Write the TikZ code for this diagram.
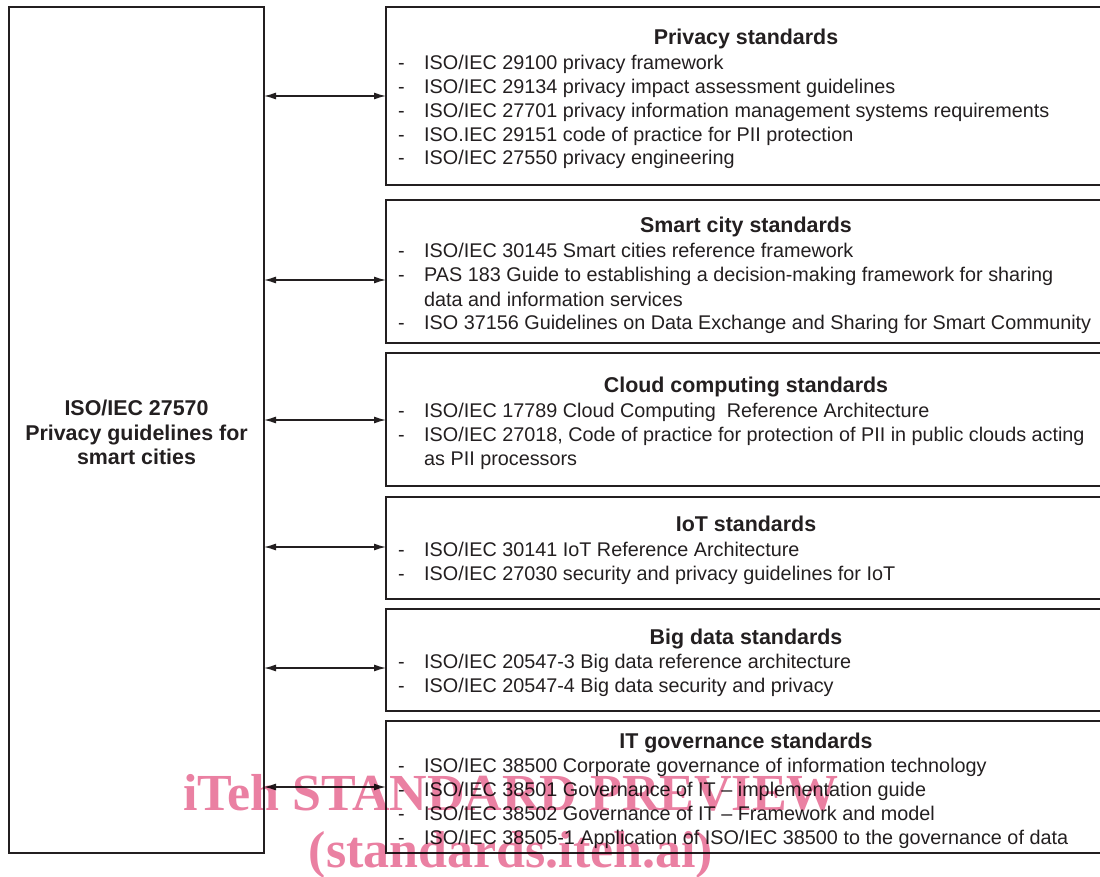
\documentclass[tikz,border=0pt]{standalone}
\usepackage{fontspec}
\setmainfont{Liberation Sans}
\newfontfamily\wmfont{Liberation Serif}
\usetikzlibrary{arrows.meta}
\definecolor{ink}{RGB}{35,31,32}
\definecolor{wm}{RGB}{234,128,162}
\tikzset{
  box/.style={draw=ink, line width=2pt, inner sep=0pt, outer sep=0pt, anchor=north west},
  ttl/.style={font=\fontsize{21.4}{24}\selectfont\bfseries, text=ink, anchor=base, inner sep=0pt},
  itm/.style={font=\fontsize{19.8}{24}\selectfont, text=ink, anchor=base west, inner sep=0pt},
  bul/.style={font=\fontsize{19.8}{24}\selectfont, text=ink, anchor=base west, inner sep=0pt},
  link/.style={draw=ink, line width=1.3pt, {Latex[length=12pt,width=7pt]}-{Latex[length=12pt,width=7pt]}},
  wmark/.style={font=\wmfont\fontsize{52}{52}\selectfont\bfseries, text=wm, anchor=base, inner sep=0pt}
}
\begin{document}
\begin{tikzpicture}[x=1pt,y=-1pt]
\useasboundingbox (0,0) rectangle (1100,877);
% boxes
\node[box, minimum width=255pt, minimum height=846pt] (main) at (9,7) {};
\node[box, minimum width=722pt, minimum height=178pt] (priv) at (386,7) {};
\node[box, minimum width=722pt, minimum height=143pt] (smart) at (386,200) {};
\node[box, minimum width=722pt, minimum height=133pt] (cloud) at (386,353) {};
\node[box, minimum width=722pt, minimum height=102pt] (iot) at (386,497) {};
\node[box, minimum width=722pt, minimum height=102pt] (big) at (386,609) {};
\node[box, minimum width=722pt, minimum height=132pt] (itg) at (386,721) {};
% main text
\node[ttl] (m1) at (136.5,415) {ISO/IEC 27570};
\node[ttl] (m2) at (136.5,440) {Privacy guidelines for};
\node[ttl] (m3) at (136.5,464) {smart cities};
% privacy
\node[ttl] (p0) at (746,45) {Privacy standards};
\foreach \y/\t [count=\i] in {70/{ISO/IEC 29100 privacy framework},94/{ISO/IEC 29134 privacy impact assessment guidelines},118/{ISO/IEC 27701 privacy information management systems requirements},142/{ISO.IEC 29151 code of practice for PII protection},165/{ISO/IEC 27550 privacy engineering}}{
  \node[bul] (pd\i) at (398,\y) {-};
  \node[itm] (p\i) at (424,\y) {\t};
}
% smart city
\node[ttl] (s0) at (746,233) {Smart city standards};
\node[bul] (sd1) at (398,258) {-};
\node[itm] (s1) at (424,258) {ISO/IEC 30145 Smart cities reference framework};
\node[bul] (sd2) at (398,282) {-};
\node[itm] (s2) at (424,282) {PAS 183 Guide to establishing a decision-making framework for sharing};
\node[itm] (s2b) at (424,306) {data and information services};
\node[bul] (sd3) at (398,330) {-};
\node[itm] (s3) at (424,330) {ISO 37156 Guidelines on Data Exchange and Sharing for Smart Community};
% cloud
\node[ttl] (c0) at (746,392) {Cloud computing standards};
\node[bul] (cd1) at (398,417) {-};
\node[itm] (c1) at (424,417) {ISO/IEC 17789 Cloud Computing~ Reference Architecture};
\node[bul] (cd2) at (398,441) {-};
\node[itm] (c2) at (424,441) {ISO/IEC 27018, Code of practice for protection of PII in public clouds acting};
\node[itm] (c2b) at (424,465) {as PII processors};
% iot
\node[ttl] (i0) at (746,531) {IoT standards};
\node[bul] (id1) at (398,556) {-};
\node[itm] (i1) at (424,556) {ISO/IEC 30141 IoT Reference Architecture};
\node[bul] (id2) at (398,580) {-};
\node[itm] (i2) at (424,580) {ISO/IEC 27030 security and privacy guidelines for IoT};
% big data
\node[ttl] (b0) at (746,644) {Big data standards};
\node[bul] (bd1) at (398,668) {-};
\node[itm] (b1) at (424,668) {ISO/IEC 20547-3 Big data reference architecture};
\node[bul] (bd2) at (398,692) {-};
\node[itm] (b2) at (424,692) {ISO/IEC 20547-4 Big data security and privacy};
% IT governance
\node[ttl] (g0) at (746,748) {IT governance standards};
\foreach \y/\t [count=\i] in {772/{ISO/IEC 38500 Corporate governance of information technology},796/{ISO/IEC 38501 Governance of IT -- implementation guide},820/{ISO/IEC 38502 Governance of IT -- Framework and model},844/{ISO/IEC 38505-1 Application of ISO/IEC 38500 to the governance of data}}{
  \node[bul] (gd\i) at (398,\y) {-};
  \node[itm] (g\i) at (424,\y) {\t};
}
% connectors
\path (0,96) coordinate (y1) (0,280) coordinate (y2) (0,420) coordinate (y3)
      (0,547) coordinate (y4) (0,668) coordinate (y5) (0,787) coordinate (y6);
\draw[link] (main.east |- y1) -- (priv.west |- y1);
\draw[link] (main.east |- y2) -- (smart.west |- y2);
\draw[link] (main.east |- y3) -- (cloud.west |- y3);
\draw[link] (main.east |- y4) -- (iot.west |- y4);
\draw[link] (main.east |- y5) -- (big.west |- y5);
\draw[link] (main.east |- y6) -- (itg.west |- y6);
% watermark
\begin{scope}[blend mode=multiply]
\node[wmark] (w1) at (511,810) {iTeh STANDARD PREVIEW};
\node[wmark] (w2) at (511,867) {(standards.iteh.ai)};
\end{scope}
\end{tikzpicture}
\end{document}
